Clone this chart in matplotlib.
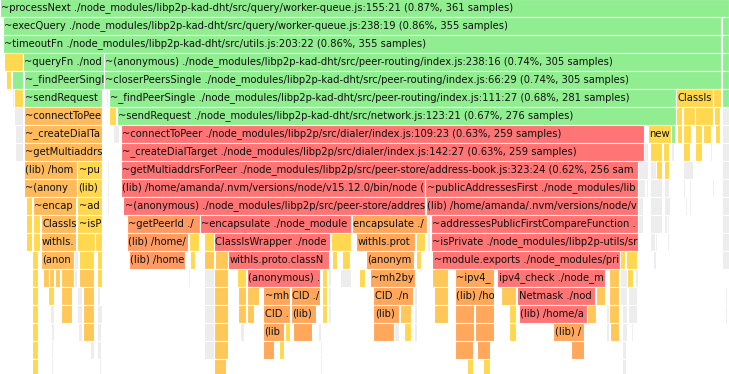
import matplotlib
matplotlib.use("Agg")
import matplotlib.pyplot as plt
from matplotlib.patches import Rectangle
from matplotlib.transforms import Bbox, TransformedBbox

# ---- data: one list per stack depth: (start_sample, samples, heat, frame name) ----
TOTAL_SAMPLES = 361
LIB = "(lib) /home/amanda/.nvm/versions/node/v15.12.0/bin/node"

DEPTH_0 = [(0, 361, 'g', "~processNext ./node_modules/libp2p-kad-dht/src/query/worker-queue.js:155:21 (0.87%, 361 samples)")]
DEPTH_1 = [(1.5, 355.5, 'g', "~execQuery ./node_modules/libp2p-kad-dht/src/query/worker-queue.js:238:19 (0.86%, 355 samples)"),
           (357.5, 3.5, 'g', "")]
DEPTH_2 = [(1.5, 355.5, 'g', "~timeoutFn ./node_modules/libp2p-kad-dht/src/utils.js:203:22 (0.86%, 355 samples)"),
           (357.5, 3.5, 'g', "")]
DEPTH_3 = [(2, 9.5, 'y', ""),
           (11.5, 40, 'g', "~queryFn ./node_modules/libp2p-kad-dht/src/query/run.js:124:18"),
           (51.6, 305.4, 'g', "~(anonymous) ./node_modules/libp2p-kad-dht/src/peer-routing/index.js:238:16 (0.74%, 305 samples)"),
           (357.5, 3.5, 'g', "")]
DEPTH_4 = [(3, 2.5, 'y', ""), (5.7, 5.9, 'g', ""),
           (11.9, 39.7, 'g', "~_findPeerSingle ./node_modules/libp2p-kad-dht/src/peer-routing/index.js:111:27"),
           (51.6, 305.4, 'g', "~closerPeersSingle ./node_modules/libp2p-kad-dht/src/peer-routing/index.js:66:29 (0.74%, 305 samples)"),
           (357.5, 3.5, 'g', "")]
DEPTH_5 = [(5.8, 1.1, 'e', ""), (6.9, 4.6, 'y', ""),
           (11.9, 38.8, 'g', "~sendRequest ./node_modules/libp2p-kad-dht/src/network.js:123:21"),
           (52.5, 1.2, 'e', ""),
           (54.1, 280.9, 'g', "~_findPeerSingle ./node_modules/libp2p-kad-dht/src/peer-routing/index.js:111:27 (0.68%, 281 samples)"),
           (335, 17.9, 'y', "ClassIsWrapper ./node_modules/class-is/index.js"),
           (353.1, 3.7, 'y', ""), (357.5, 3.5, 'g', "")]
DEPTH_6 = [(6.9, 4.6, 'e', ""),
           (11.9, 38.8, 'l', "~connectToPeer ./node_modules/libp2p/src/dialer/index.js:109:23"),
           (54.1, 3.4, 'y', ""),
           (57.7, 277, 'g', "~sendRequest ./node_modules/libp2p-kad-dht/src/network.js:123:21 (0.67%, 276 samples)"),
           (335, 2.7, 'y', ""), (338.1, 5.9, 'y', ""), (344.2, 8.8, 'y', ""), (353.4, 3, 'y', ""),
           (357.5, 3.5, 'e', "")]
DEPTH_7 = [(7.4, 4, 'e', ""),
           (11.9, 38.8, 'l', "~_createDialTarget ./node_modules/libp2p/src/dialer/index.js:142:27"),
           (56, 3, 'e', ""),
           (59.8, 259, 'r', "~connectToPeer ./node_modules/libp2p/src/dialer/index.js:109:23 (0.63%, 259 samples)"),
           (320.9, 11.2, 'y', "new"), (332.1, 2, 'g', ""),
           (335.1, 2.4, 'y', ""), (338.1, 3.9, 'y', ""), (344.2, 3.4, 'y', ""), (348, 4.1, 'y', ""),
           (354.1, 2.4, 'y', ""), (357.5, 3.5, 'e', "")]
DEPTH_8 = [(7.4, 4, 'e', ""),
           (11.9, 38.8, 'l', "~getMultiaddrsForPeer ./node_modules/libp2p/src/peer-store/address-book.js:323:24"),
           (59.8, 259, 'r', "~_createDialTarget ./node_modules/libp2p/src/dialer/index.js:142:27 (0.63%, 259 samples)"),
           (319.1, 1.8, 'e', ""), (321.9, 5.8, 'y', ""), (328.2, 3.3, 'y', ""), (332.3, 1.5, 'e', ""),
           (338.1, 3.8, 'y', ""), (344.2, 3.3, 'y', ""), (351.5, 1, 'e', ""), (357.5, 3.5, 'e', "")]
DEPTH_9 = [(11.9, 26.1, 'l', LIB),
           (38.3, 12.3, 'y', "~publicAddressesFirst ./node_modules/libp2p/src/peer-store/address-book.js"),
           (53, 1, 'e', ""),
           (59.8, 256, 'r', "~getMultiaddrsForPeer ./node_modules/libp2p/src/peer-store/address-book.js:323:24 (0.62%, 256 samples)"),
           (316, 5, 'e', ""), (321.9, 2.9, 'e', ""), (324.9, 2.9, 'y', ""), (328.8, 2.6, 'y', ""),
           (338.1, 5, 'e', ""), (357.5, 3.5, 'e', "")]
DEPTH_10 = [(11.9, 26.1, 'l', "~(anonymous) ./node_modules/libp2p/src/peer-store/address-book.js:327:33"),
            (38.3, 12.3, 'y', LIB), (53, 1, 'e', ""),
            (59.8, 150.5, 'r', LIB + " (sort)"),
            (210.7, 105.2, 'r', "~publicAddressesFirst ./node_modules/libp2p-utils/src/address-sort.js:44:30"),
            (316, 3.5, 'e', ""), (319.9, 1.2, 'e', ""), (321.9, 5.9, 'e', ""), (328.8, 2.6, 'e', ""),
            (338.1, 1.3, 'e', ""), (341.2, 1.2, 'e', ""), (352.5, 1, 'e', ""), (357.5, 3.5, 'e', "")]
DEPTH_11 = [(12.9, 3, 'y', ""),
            (16.2, 21.5, 'l', "~encapsulate ./node_modules/multiaddr/src/index.js:232:14"),
            (38.3, 12.3, 'y', "~addressesPublicFirstCompareFunction ./node_modules/libp2p-utils/src/address-sort.js"),
            (53, 1, 'e', ""),
            (61.1, 149.4, 'r', "~(anonymous) ./node_modules/libp2p/src/peer-store/address-book.js:330:12"),
            (210.8, 105.1, 'r', LIB),
            (316, 2.5, 'e', ""), (321.9, 5.9, 'e', ""), (328.8, 3, 'e', ""), (339.2, 1.2, 'e', ""),
            (341.3, 0.8, 'e', ""), (357.5, 3.5, 'e', "")]
DEPTH_12 = [(12.9, 3, 'y', ""), (16.2, 3.5, 'y', ""),
            (20.2, 17.5, 'l', "ClassIsWrapper ./node_modules/class-is/index.js"),
            (38.3, 12.3, 'y', "~isPrivate ./node_modules/libp2p-utils/src/multiaddr/is-private.js"),
            (63, 35.8, 's', "~getPeerId ./node_modules/libp2p/src/peer-store/address-book.js"),
            (99, 74.9, 'r', "~encapsulate ./node_modules/multiaddr/src/index.js:232:14"),
            (174.2, 37.3, 'o', "encapsulate ./node_modules/multiaddr/src/index.js"),
            (211.6, 1.3, 'e', ""),
            (213.3, 102.5, 'r', "~addressesPublicFirstCompareFunction ./node_modules/libp2p-utils/src/address-sort.js:14:46"),
            (316, 2.5, 'e', ""), (321.9, 5.9, 'e', ""), (328.8, 1.3, 'e', ""), (330.5, 1, 'e', ""),
            (357.5, 3.5, 'e', "")]
DEPTH_13 = [(12.9, 3, 'y', ""), (16.2, 3.5, 'y', ""),
            (20.2, 17.5, 'l', "withIs.proto.className ./node_modules/class-is/index.js"),
            (38.3, 8.5, 'y', ""), (47, 3.5, 'y', ""),
            (63, 30, 's', LIB), (93.7, 4.9, 'y', ""), (101, 4.8, 'y', ""),
            (106, 57.6, 'r', "ClassIsWrapper ./node_modules/class-is/index.js"),
            (163.8, 10.1, 'y', ""),
            (176.3, 29.4, 'o', "withIs.proto.className ./node_modules/class-is/index.js"),
            (206, 4.7, 'y', ""), (211.6, 1.3, 'e', ""),
            (213.3, 102.5, 'r', "~isPrivate ./node_modules/libp2p-utils/src/multiaddr/is-private.js:12:20"),
            (321.9, 2.6, 'e', ""), (324.6, 0.9, 'e', ""), (330.5, 1, 'e', ""), (357.5, 3.5, 'e', "")]
DEPTH_14 = [(16, 2.7, 'y', ""),
            (20.2, 16.5, 'l', "(anonymous) ./node_modules/multiaddr/src/index.js"),
            (36.7, 2, 'e', ""), (39, 7.5, 'y', ""), (47.9, 2.5, 'y', ""),
            (64, 27.8, 's', LIB), (94.1, 2.7, 'y', ""), (101, 4.8, 'a', ""), (106.5, 6.3, 'a', ""),
            (113, 49.8, 'r', "withIs.proto.className ./node_modules/class-is/index.js"),
            (164.3, 2.6, 'y', ""), (169.2, 4.3, 'y', ""),
            (181.2, 23.7, 'o', "(anonymous) ./node_modules/multiaddr/src/index.js"),
            (206, 2.7, 'y', ""),
            (214.1, 92.8, 'r', "~module.exports ./node_modules/private-ip/index.js:48:18"),
            (307, 2.5, 'y', ""), (310, 5.6, 'y', ""), (323.5, 1.3, 'e', ""), (357.5, 3.5, 'e', "")]
DEPTH_15 = [(16, 2.7, 'y', ""), (21.1, 3, 'a', ""), (24.3, 2.6, 'a', ""), (27.2, 2.7, 'a', ""),
            (30.2, 6.6, 'a', ""), (36.8, 1.5, 'e', ""), (39.1, 7.6, 'a', ""), (47.9, 2.5, 'y', ""),
            (93.1, 1.2, 'e', ""), (101, 4.8, 'e', ""), (106, 6.8, 'a', ""), (117.2, 4.8, 'y', ""),
            (122.2, 36.5, 'r', "(anonymous) ./node_modules/multiaddr/src/codec.js"),
            (159.3, 2.7, 'y', ""), (162.2, 1.8, 'e', ""), (168.5, 5.3, 'e', ""), (177.9, 3, 'y', ""),
            (183.2, 22.2, 'o', "~mh2bytes ./node_modules/multihashes/src/index.js"),
            (214.1, 7.6, 'a', ""),
            (225.2, 19.6, 'o', "~ipv4_check ./node_modules/private-ip/index.js"),
            (246.3, 53.4, 'r', "ipv4_check ./node_modules/private-ip/index.js:4:20"),
            (301.7, 4.6, 'a', ""), (307, 3.3, 'e', ""), (310.6, 2.8, 'y', ""), (314.6, 1.2, 'e', "")]
DEPTH_16 = [(16, 2.7, 'y', ""), (23.9, 3, 'y', ""), (30.2, 5.5, 'a', ""), (38.2, 2.2, 'e', ""),
            (41, 5.7, 'a', ""), (47.9, 1.4, 'e', ""), (101, 4.8, 'e', ""), (106, 6.8, 'a', ""),
            (118, 4, 'a', ""), (122.2, 5.9, 'a', ""),
            (130.4, 13.4, 'o', "~mh2bytes ./node_modules/multihashes/src/index.js"),
            (144.1, 14.6, 'o', "CID ./node_modules/cids/src/index.js"),
            (159.3, 2.7, 'y', ""), (162.2, 1.8, 'e', ""),
            (184.9, 19.5, 'o', "CID ./node_modules/cids/src/index.js"),
            (205, 1.5, 'e', ""), (214.9, 6.8, 'a', ""),
            (225.2, 19.6, 'o', LIB), (247.9, 7.7, 'a', ""),
            (256.2, 38.6, 'r', "Netmask ./node_modules/netmask/lib/netmask.js"),
            (295, 4.7, 'a', ""), (301.7, 4.6, 'a', ""), (307, 3.3, 'e', ""), (311.1, 4.5, 'e', ""),
            (359, 1, 'e', "")]
DEPTH_17 = [(16, 2.7, 'y', ""), (24.8, 2, 'e', ""), (30.2, 5.5, 'a', ""), (38.2, 2.2, 'e', ""),
            (41, 5.7, 'a', ""), (47.9, 2.5, 'e', ""), (101, 4.8, 'e', ""), (106, 6.8, 'a', ""),
            (118, 4, 'a', ""), (122.2, 3.8, 'a', ""),
            (130.4, 13.4, 'o', "CID ./node_modules/cids/src/index.js"),
            (144.1, 12.6, 'o', LIB), (159.3, 2.7, 'y', ""), (162.2, 1.8, 'e', ""),
            (184.9, 12.9, 'o', LIB), (198.1, 5.5, 'a', ""), (205, 1.5, 'e', ""), (214.9, 6.8, 'a', ""),
            (225.2, 9.7, 'o', ""), (235.2, 9.6, 'o', ""), (252.1, 3.5, 'y', ""),
            (257, 33.8, 'r', LIB), (290.8, 4.4, 'a', ""), (300.1, 1.4, 'e', ""), (301.7, 4.6, 'a', ""),
            (308.2, 2.2, 'e', ""), (311.1, 4.5, 'e', ""), (359, 1, 'e', "")]
DEPTH_18 = [(16, 2.7, 'y', ""), (25.2, 1.5, 'e', ""), (38.5, 2, 'e', ""), (41, 5.7, 'a', ""),
            (47.9, 2, 'e', ""), (101, 4.8, 'e', ""), (106, 6.8, 'a', ""), (119, 2, 'e', ""),
            (130.4, 10.1, 'o', LIB), (141.1, 2.7, 'y', ""), (144.9, 9.7, 'o', ""),
            (157.5, 1.5, 'e', ""), (184.9, 10.1, 'o', ""), (195.2, 2.5, 'e', ""), (200.1, 3.5, 'y', ""),
            (205, 1.5, 'e', ""), (225.2, 9.7, 'o', ""), (235.2, 9.6, 'o', ""), (252.1, 3.5, 'y', ""),
            (274, 15.1, 'o', LIB), (300, 1.5, 'e', ""), (302.1, 4.6, 'a', ""), (308.2, 2.2, 'e', ""),
            (312.6, 1.1, 'e', "")]
DEPTH_19 = [(16, 2.7, 'y', ""), (25.2, 1, 'e', ""), (44.5, 2, 'e', ""), (47.9, 2, 'e', ""),
            (101, 4.8, 'e', ""), (106, 6.8, 'a', ""), (130.4, 5.5, 'o', ""), (138.3, 2.5, 'y', ""),
            (158.5, 1, 'e', ""), (225.2, 8.9, 'o', ""), (236.1, 6.7, 'o', ""), (282.9, 6.2, 'o', ""),
            (307.9, 2.1, 'e', "")]
DEPTH_20 = [(16, 2.7, 'y', ""), (25.2, 1, 'e', ""), (49, 1, 'e', ""), (106, 6.1, 'a', ""),
            (158.5, 1, 'e', ""), (231.1, 3, 'y', ""), (239.3, 3.5, 'y', ""), (307.9, 2.1, 'e', "")]

LEVELS = [DEPTH_0, DEPTH_1, DEPTH_2, DEPTH_3, DEPTH_4, DEPTH_5, DEPTH_6, DEPTH_7, DEPTH_8,
          DEPTH_9, DEPTH_10, DEPTH_11, DEPTH_12, DEPTH_13, DEPTH_14, DEPTH_15, DEPTH_16,
          DEPTH_17, DEPTH_18, DEPTH_19, DEPTH_20]

# ---- styling ----
HEAT_COLORS = {
    'g': '#90EE90',
    'r': '#FF7474',
    's': '#FF9A62',
    'o': '#FFA75B',
    'l': '#FFBA5C',
    'a': '#FFC757',
    'y': '#FFD84F',
    'e': '#EDEDED',
}

W, H, DPI = 729, 374, 100
ROW_PX = 18.0
fig = plt.figure(figsize=(W / DPI, H / DPI), dpi=DPI)
ax = fig.add_axes([0, 0, 1, 1])
top = 0.067
ax.set_xlim(0, TOTAL_SAMPLES)
ax.set_ylim(top + H / ROW_PX, top)
ax.axis('off')
renderer = fig.canvas.get_renderer()


def fit_label(t, name, right_px):
    """Trim the label to the characters that (nearly) fit inside its frame."""
    if t.get_window_extent(renderer).x1 <= right_px:
        return
    lo, hi = 0, len(name)
    while lo < hi:
        mid = (lo + hi + 1) // 2
        t.set_text(name[:mid])
        if t.get_window_extent(renderer).x1 <= right_px:
            lo = mid
        else:
            hi = mid - 1
    t.set_text(name[:lo].rstrip())


for depth, frames in enumerate(LEVELS):
    for start, samples, heat, name in frames:
        rect = Rectangle((start, depth), samples, 1, facecolor=HEAT_COLORS[heat],
                         edgecolor='white', linewidth=0.8)
        ax.add_patch(rect)
        if name:
            t = ax.annotate(name, xy=(start, depth + 0.5), xytext=(0.9, 0),
                            textcoords='offset points', va='center', ha='left',
                            fontsize=7.2, color='#111111', family='DejaVu Sans',
                            annotation_clip=False)
            right_px = ax.transData.transform((start + samples, depth))[0] + 0.5
            fit_label(t, name, right_px)
            t.set_clip_box(TransformedBbox(Bbox([[start, depth], [start + samples, depth + 1]]),
                                           ax.transData))
            t.set_clip_on(True)

fig.savefig('out.png', dpi=DPI)
